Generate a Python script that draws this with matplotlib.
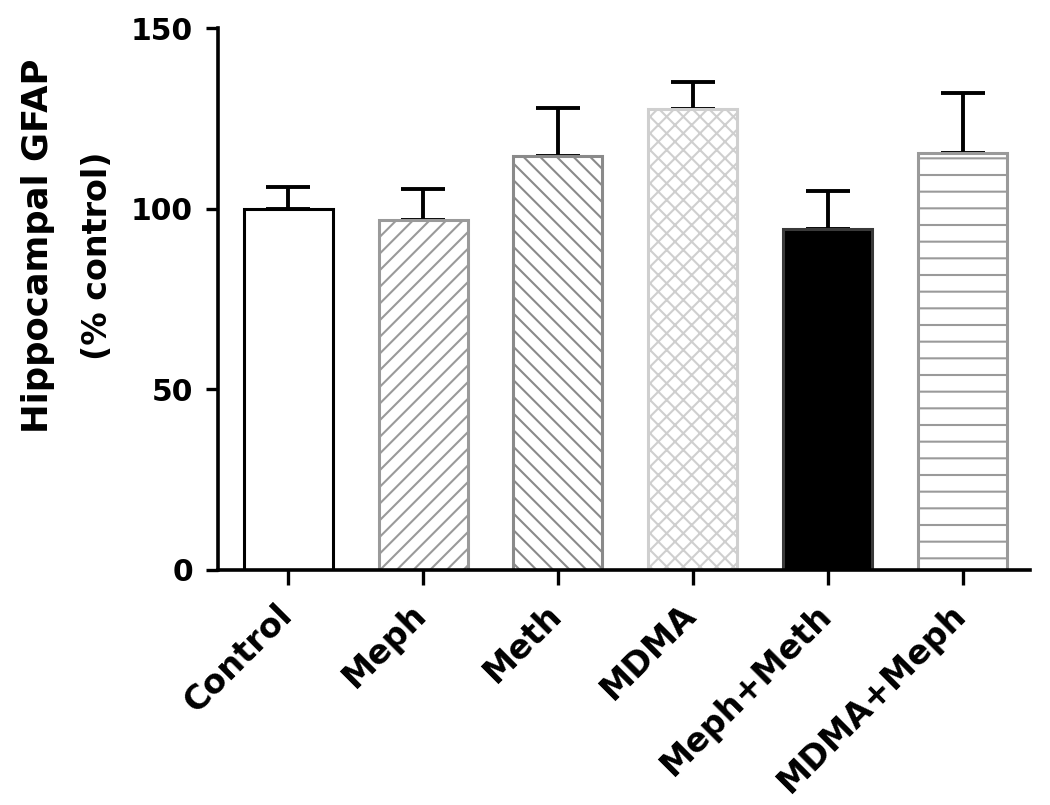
import numpy as np
import matplotlib
matplotlib.use("Agg")
import matplotlib.pyplot as plt
import matplotlib.transforms as mtransforms

# values (mean and upper SEM)
groups = ["Control", "Meph", "Meth", "MDMA", "Meph+Meth", "MDMA+Meph"]
means = [100.0, 97.0, 114.5, 127.5, 94.5, 115.5]
errors = [6.0, 8.5, 13.5, 7.5, 10.5, 16.5]
yticks = [0, 50, 100, 150]

faces = ["white", "white", "white", "white", "black", "white"]
edges = ["black", "#9a9a9a", "#8a8a8a", "#cfcfcf", "#3a3a3a", "#9a9a9a"]
hatches = ["", "//", "\\\\", "xx", "", "-"]

plt.rcParams["font.family"] = ["DejaVu Sans"]
plt.rcParams["font.weight"] = "bold"
plt.rcParams["hatch.linewidth"] = 1.5

fig = plt.figure(figsize=(10.5, 8.05), dpi=100)
ax = fig.add_axes([0.2076, 0.292, 0.7734, 0.673])

x = np.arange(len(groups))
for i in range(len(groups)):
    ax.bar(x[i], means[i], width=0.66, color=faces[i], edgecolor=edges[i],
           hatch=hatches[i], linewidth=2.2, zorder=2)
ax.errorbar(x, means, yerr=[np.zeros(len(errors)), errors], fmt="none",
            ecolor="black", elinewidth=2.8, capsize=16, capthick=2.8, zorder=1)

ax.set_xlim(-0.52, 5.5)
ax.set_ylim(0, 150)
ax.set_yticks(yticks)
ax.set_xticks(x)
ax.set_xticklabels(groups, rotation=45, ha="right", rotation_mode="anchor",
                   fontsize=24, fontweight="bold")
ax.tick_params(axis="y", labelsize=21.5, width=2.4, length=9, pad=9)
ax.tick_params(axis="x", width=2.4, length=11, pad=9)
for lab in ax.get_yticklabels():
    lab.set_fontweight("bold")

# nudge the slanted labels left so their ends sit under the ticks
shift = mtransforms.ScaledTranslation(-0.13, 0, fig.dpi_scale_trans)
for lab in ax.get_xticklabels():
    lab.set_transform(lab.get_transform() + shift)

for s in ["top", "right"]:
    ax.spines[s].set_visible(False)
for s in ["left", "bottom"]:
    ax.spines[s].set_linewidth(2.6)

# two-line y label, lines set apart as in the original
fig.text(0.036, 0.695, "Hippocampal GFAP", rotation=90, fontsize=25.5,
         fontweight="bold", ha="center", va="center")
fig.text(0.093, 0.682, "(% control)", rotation=90, fontsize=24,
         fontweight="bold", ha="center", va="center")

fig.savefig("out.png", dpi=100)
